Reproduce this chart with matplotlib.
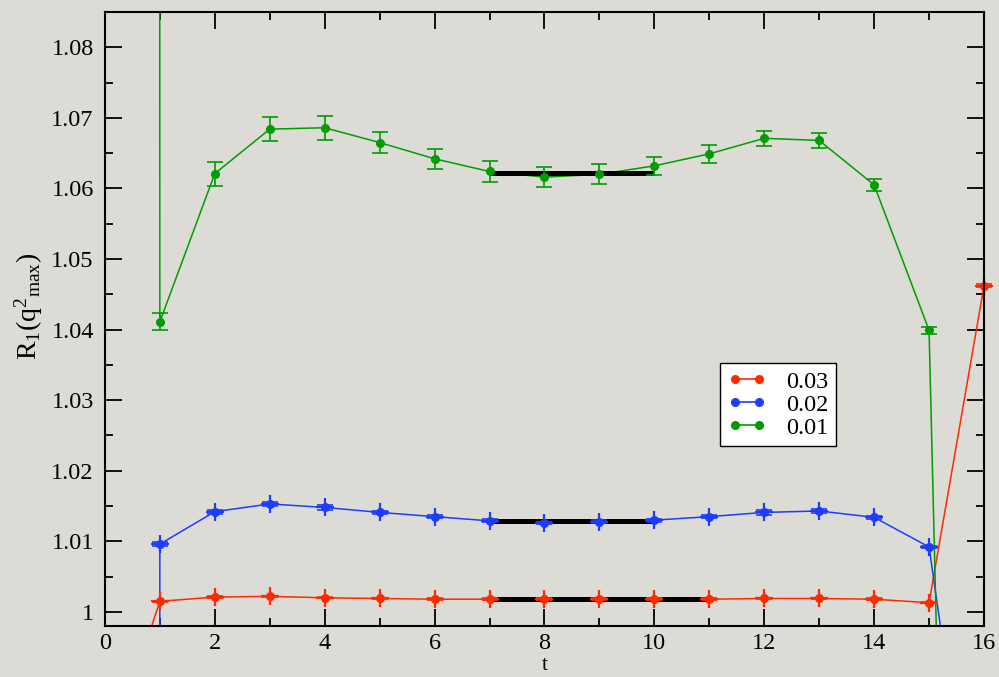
import numpy as np
import matplotlib
matplotlib.use("Agg")
import matplotlib.pyplot as plt
from matplotlib.lines import Line2D
from matplotlib.ticker import MultipleLocator, FuncFormatter

# ratio R_1(q^2_max) vs t for three quark masses
t = np.arange(0, 17)

r_003 = [0.978, 1.0015, 1.0021, 1.0022, 1.0020, 1.0019, 1.0018, 1.0018, 1.0018,
         1.0018, 1.0018, 1.0018, 1.0019, 1.0019, 1.0018, 1.0013, 1.0462]
e_003 = [0.0003, 0.0001, 0.0001, 0.0001, 0.0001, 0.0001, 0.0001, 0.0001, 0.0001,
         0.0001, 0.0001, 0.0001, 0.0001, 0.0001, 0.0001, 0.0001, 0.0002]

r_002 = [-20.0, 1.0096, 1.0142, 1.0153, 1.0148, 1.0141, 1.0135, 1.0129, 1.0126,
         1.0128, 1.0130, 1.0135, 1.0141, 1.0143, 1.0134, 1.0092, 0.955]
e_002 = [0.001, 0.0003, 0.0003, 0.0003, 0.0003, 0.0002, 0.0002, 0.0002, 0.0002,
         0.0002, 0.0002, 0.0002, 0.0003, 0.0003, 0.0002, 0.0002, 0.001]

r_001 = [30.0, 1.0411, 1.0621, 1.0684, 1.0686, 1.0665, 1.0642, 1.0624, 1.0616,
         1.0620, 1.0632, 1.0649, 1.0671, 1.0668, 1.0605, 1.0399, 0.72]
e_001 = [0.01, 0.0012, 0.0017, 0.0017, 0.0017, 0.0015, 0.0014, 0.0015, 0.0014,
         0.0014, 0.0013, 0.0013, 0.0011, 0.0011, 0.0009, 0.0005, 0.01]

# plateau fits: (t_start, t_end, value)
fit_003 = (7, 11, 1.0018)
fit_002 = (7, 10, 1.0129)
fit_001 = (7, 10, 1.0622)

labels = ["0.03", "0.02", "0.01"]

bg = "#dddbd6"
plt.rcParams["font.family"] = ["Liberation Serif", "DejaVu Serif"]
plt.rcParams["mathtext.fontset"] = "custom"
plt.rcParams["mathtext.rm"] = "Liberation Serif"
plt.rcParams["mathtext.it"] = "Liberation Serif"

fig = plt.figure(figsize=(9.99, 6.77), dpi=100, facecolor=bg)
ax = fig.add_axes([0.105, 0.0753, 0.880, 0.907], facecolor=bg)

YMIN, YMAX = 0.998, 1.085
ax.set_xlim(0, 16)
ax.set_ylim(YMIN, YMAX)

series = [
    (r_003, e_003, fit_003, "#ff2a00", True),
    (r_002, e_002, fit_002, "#1e3cff", True),
    (r_001, e_001, fit_001, "#009c00", False),
]

for y, err, fit, col, plus in series:
    y = np.asarray(y)
    err = np.asarray(err)
    ax.plot(t, y, color=col, lw=1.1, zorder=2)
    ax.plot([fit[0], fit[1]], [fit[2], fit[2]], color="black", lw=3.6,
            solid_capstyle="butt", zorder=3)
    ok = (y > YMIN) & (y < YMAX)
    ax.errorbar(t[ok], y[ok], yerr=err[ok], fmt="o", color=col, ms=5.5,
                elinewidth=1.2, capsize=6, capthick=1.2, zorder=4,
                clip_on=False)
    if plus:
        ax.plot(t[ok], y[ok], "+", color=col, ms=13, mew=1.6, zorder=4,
                clip_on=False)

for s in ax.spines.values():
    s.set_linewidth(1.5)
    s.set_zorder(5)

ax.xaxis.set_major_locator(MultipleLocator(2))
ax.xaxis.set_minor_locator(MultipleLocator(1))
ax.yaxis.set_major_locator(MultipleLocator(0.01))
ax.yaxis.set_minor_locator(MultipleLocator(0.005))
ax.yaxis.set_major_formatter(FuncFormatter(lambda v, p: "%g" % round(v, 4)))
ax.tick_params(which="both", direction="in", top=True, right=True,
               labelsize=17.5, width=1.3)
ax.tick_params(axis="x", pad=5)
ax.tick_params(axis="y", pad=8)
ax.tick_params(which="major", length=12)
ax.tick_params(which="minor", length=6)

ax.set_xlabel("t", fontsize=16)
ax.xaxis.set_label_coords(0.5, -0.049)
ax.set_ylabel(r"$\mathrm{R_1(q^2{}_{max})}$", fontsize=20)
ax.yaxis.set_label_coords(-0.068, 0.52)

handles = [Line2D([0], [0], color=c, lw=1.2, marker="o", ms=5.5)
           for c in ["#ff2a00", "#1e3cff", "#009c00"]]
leg = ax.legend(handles, labels, loc="upper left", bbox_to_anchor=(0.70, 0.428),
                borderaxespad=0, numpoints=2, fontsize=17.5, handlelength=1.6,
                handletextpad=0.8, labelspacing=0.05, borderpad=0.3,
                fancybox=False, framealpha=1, edgecolor="black")
leg.get_frame().set_linewidth(1.0)
leg.set_zorder(6)

fig.savefig("out.png", dpi=100, facecolor=bg)
